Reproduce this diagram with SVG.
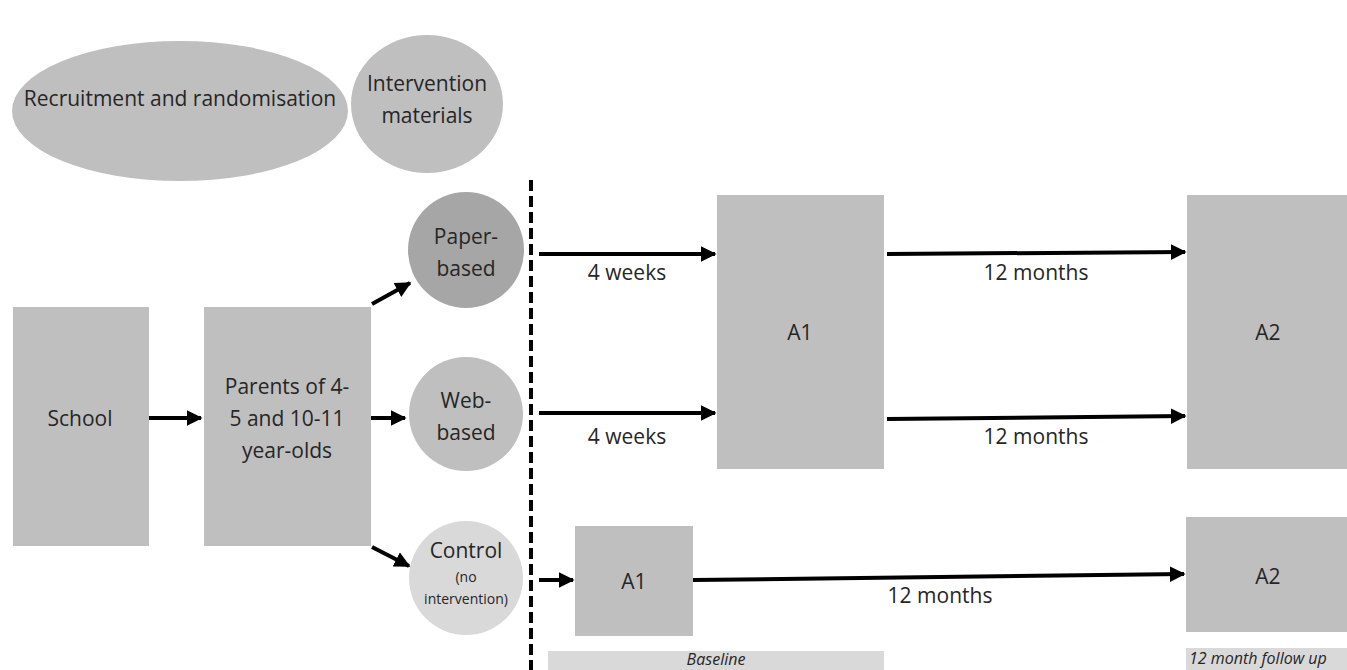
<svg xmlns="http://www.w3.org/2000/svg" width="1347" height="670" viewBox="0 0 1347 670">
<style>
text{font-family:"Open Sans","Liberation Sans",sans-serif;fill:#262626;font-size:21px;text-anchor:middle}
.box{fill:#bfbfbf}
.ln{stroke:#000;stroke-width:4;fill:none}
.it{font-style:italic;font-size:16px}
.sm{font-size:14px}
</style>
<defs>
<marker id="ah" viewBox="0 0 10 10" refX="9" refY="5" markerWidth="4" markerHeight="4" orient="auto" markerUnits="strokeWidth">
<path d="M0,0 L10,5 L0,10 z" fill="#000"/>
</marker>
</defs>
<rect width="1347" height="670" fill="#fff"/>
<g id="recruitment"><ellipse cx="180" cy="111" rx="168" ry="70" class="box"/><text x="180" y="106">Recruitment and randomisation</text></g>
<g id="intervention"><ellipse cx="427" cy="104" rx="76" ry="69" class="box"/><text x="427" y="91">Intervention</text><text x="427" y="123">materials</text></g>
<g id="school"><rect x="13" y="307" width="136" height="239" class="box"/><text x="80" y="426">School</text></g>
<g id="parents"><rect x="204" y="307" width="167" height="239" class="box"/><text x="287" y="394">Parents of 4-</text><text x="287" y="426">5 and 10-11</text><text x="287" y="458">year-olds</text></g>
<g id="paper"><circle cx="466" cy="250" r="58" fill="#a6a6a6"/><text x="466" y="244">Paper-</text><text x="466" y="276">based</text></g>
<g id="web"><circle cx="466" cy="414" r="57" class="box"/><text x="466" y="408">Web-</text><text x="466" y="440">based</text></g>
<g id="control"><circle cx="466" cy="578" r="57" fill="#d9d9d9"/><text x="466" y="558">Control</text><text x="466" y="582" class="sm">(no</text><text x="466" y="604" class="sm">intervention)</text></g>
<g id="a1-top"><rect x="717" y="195" width="167" height="274" class="box"/><text x="800" y="340">A1</text></g>
<g id="a2-top"><rect x="1187" y="195" width="160" height="274" class="box"/><text x="1268" y="340">A2</text></g>
<g id="a1-control"><rect x="575" y="526" width="118" height="110" class="box"/><text x="634" y="589">A1</text></g>
<g id="a2-control"><rect x="1186" y="517" width="161" height="115" class="box"/><text x="1268" y="584">A2</text></g>
<g id="baseline"><rect x="548" y="651" width="336" height="19" fill="#d9d9d9"/><text x="716" y="665" class="it">Baseline</text></g>
<g id="followup"><rect x="1186" y="648" width="161" height="22" fill="#d9d9d9"/><text x="1189" y="664" class="it" style="text-anchor:start">12 month follow up</text></g>
<g id="connectors">
<line x1="531" y1="180" x2="531" y2="670" stroke="#000" stroke-width="4" stroke-dasharray="11,5"/>
<line x1="149" y1="418" x2="201" y2="418" class="ln" marker-end="url(#ah)"/>
<line x1="371" y1="418" x2="405" y2="418" class="ln" marker-end="url(#ah)"/>
<line x1="372" y1="304" x2="410" y2="283" class="ln" marker-end="url(#ah)"/>
<line x1="372" y1="547" x2="409" y2="566" class="ln" marker-end="url(#ah)"/>
<line x1="539" y1="254" x2="715" y2="254" class="ln" marker-end="url(#ah)"/>
<line x1="887" y1="254" x2="1185" y2="252" class="ln" marker-end="url(#ah)"/>
<line x1="539" y1="413" x2="715" y2="413" class="ln" marker-end="url(#ah)"/>
<line x1="887" y1="419" x2="1185" y2="416" class="ln" marker-end="url(#ah)"/>
<line x1="539" y1="580" x2="573" y2="580" class="ln" marker-end="url(#ah)"/>
<line x1="693" y1="580" x2="1184" y2="574" class="ln" marker-end="url(#ah)"/>
<text x="627" y="280">4 weeks</text>
<text x="1036" y="280">12 months</text>
<text x="627" y="444">4 weeks</text>
<text x="1036" y="444">12 months</text>
<text x="940" y="603">12 months</text>
</g>
</svg>
